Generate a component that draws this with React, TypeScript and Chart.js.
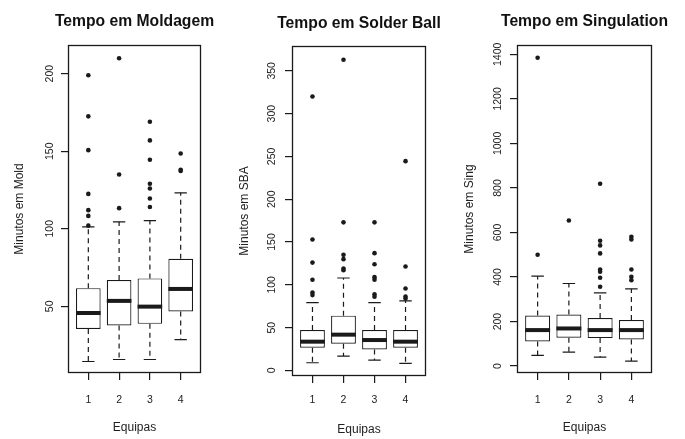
import React, { useEffect, useRef } from 'react';
import { Chart, registerables } from 'chart.js';

Chart.register(...registerables);

// ---------- data ----------
const categories = ['1', '2', '3', '4'];
const positions = [1, 2, 3, 4];

// Tempo em Moldagem
const moldLower = [14.4, 15.7, 15.7, 28.5];
const moldQ1 = [35.4, 37.7, 38.7, 46.7];
const moldMedian = [45.7, 53.5, 49.8, 61.2];
const moldQ3 = [61.7, 67.0, 68.0, 80.7];
const moldUpper = [101.2, 104.5, 105.3, 123.2];
const moldOutliers = [
  [199, 172.5, 150.7, 122.5, 112, 108.3, 102],
  [210, 135, 113.3],
  [169, 157, 144.5, 129, 126, 119.5, 114],
  [148.5, 138, 137.3],
];
const moldTicks = [50, 100, 150, 200];

// Tempo em Solder Ball
const sbaLower = [9, 16.8, 12.1, 8.2];
const sbaQ1 = [26.6, 31.3, 24.6, 26.6];
const sbaMedian = [33.6, 41.8, 35.5, 33.6];
const sbaQ3 = [47.3, 64, 47.3, 47.3];
const sbaUpper = [79.3, 108, 79.3, 81.3];
const sbaOutliers = [
  [320, 153, 126, 106, 91, 88],
  [363, 173, 135, 130, 119, 117],
  [173, 137, 124, 109, 106, 89, 86],
  [244.5, 121.5, 95.7, 86.3, 84],
];
const sbaTicks = [0, 50, 100, 150, 200, 250, 300, 350];

// Tempo em Singulation
const singLower = [47.9, 62.9, 40.4, 22.5];
const singQ1 = [110.8, 127, 125.7, 119.8];
const singMedian = [161.7, 169, 161.7, 161.7];
const singQ3 = [227.5, 232, 215.6, 206.6];
const singUpper = [404, 371, 329, 347];
const singOutliers = [
  [1385, 500],
  [654],
  [819, 563, 542, 506, 434, 424, 397, 356],
  [581, 569, 434, 401, 386],
];
const singTicks = [0, 200, 400, 600, 800, 1000, 1200, 1400];

const FAMILY = 'Arial, "Liberation Sans", Helvetica, sans-serif';
const INK = '#1a1a1a';

type PanelProps = {
  title: string;
  yTitle: string;
  lower: number[];
  q1: number[];
  median: number[];
  q3: number[];
  upper: number[];
  outliers: number[][];
  yTicks: number[];
  yMin: number;
  yMax: number;
  left: number;
  areaLeft: number;
  areaRight: number;
  areaTop: number;
  areaBottom: number;
  titleCenterY: number;
  yTitleX: number;
  yLabelGap: number;
  xLabelY: number;
  xTitleY: number;
};

const HEIGHT = 439;

function Panel(p: PanelProps) {
  const ref = useRef<HTMLCanvasElement | null>(null);
  // canvas symmetric around the plot area so that the chart title is centred over it
  const width = p.areaLeft + p.areaRight;

  useEffect(() => {
    const canvas = ref.current;
    if (!canvas) return;

    const boxPlugin = {
      id: 'rBoxExtras',
      afterDatasetsDraw(chart: any) {
        const ctx = chart.ctx;
        const xs = chart.scales.x;
        const ys = chart.scales.y;
        const meta = chart.getDatasetMeta(0);
        ctx.save();
        ctx.strokeStyle = INK;
        positions.forEach((pos, i) => {
          const x = xs.getPixelForValue(pos);
          const bar = meta.data[i];
          const w = bar ? bar.width : 24;
          const yQ1 = ys.getPixelForValue(p.q1[i]);
          const yQ3 = ys.getPixelForValue(p.q3[i]);
          const yLo = ys.getPixelForValue(p.lower[i]);
          const yHi = ys.getPixelForValue(p.upper[i]);
          const yMed = ys.getPixelForValue(p.median[i]);
          ctx.lineWidth = 1.2;
          ctx.setLineDash([5, 4]);
          ctx.beginPath();
          ctx.moveTo(x, yQ3);
          ctx.lineTo(x, yHi);
          ctx.moveTo(x, yQ1);
          ctx.lineTo(x, yLo);
          ctx.stroke();
          ctx.setLineDash([]);
          ctx.beginPath();
          ctx.moveTo(x - w / 4, yHi);
          ctx.lineTo(x + w / 4, yHi);
          ctx.moveTo(x - w / 4, yLo);
          ctx.lineTo(x + w / 4, yLo);
          ctx.stroke();
          ctx.lineWidth = 4;
          ctx.lineCap = 'butt';
          ctx.beginPath();
          ctx.moveTo(x - w / 2, yMed);
          ctx.lineTo(x + w / 2, yMed);
          ctx.stroke();
        });
        const a = chart.chartArea;
        ctx.lineWidth = 1.3;
        ctx.strokeRect(a.left + 0.5, a.top + 0.5, a.right - a.left - 1, a.bottom - a.top - 1);
        ctx.restore();
      },
    };

    const boxData = positions.map((pos, i) => ({ x: pos, y: [p.q1[i], p.q3[i]] }));
    const outlierData: { x: number; y: number }[] = [];
    positions.forEach((pos, i) => {
      p.outliers[i].forEach((v) => outlierData.push({ x: pos, y: v }));
    });

    const titleSize = 15.7;
    const titleLH = titleSize * 1.2;
    const titleTop = p.titleCenterY - titleLH / 2;
    const titleBottom = p.areaTop - titleTop - titleLH;

    const tickSize = 10.5;
    const tickLen = 7;
    const axisTitleSize = 12;
    const axisTitleLH = axisTitleSize * 1.2;

    const xAxisHeight = HEIGHT - p.areaBottom;
    const xTickPad = p.xLabelY - p.areaBottom - tickLen - (tickSize * 1.2) / 2;
    const xTitlePad = HEIGHT - p.xTitleY - axisTitleLH / 2;

    const yAxisWidth = p.areaLeft;
    const rightSpace = width - p.areaRight;
    const widestDigits = Math.max(...p.yTicks.map((v) => String(v).length));
    const widest = widestDigits * 0.556 * tickSize;
    const yTickPad = p.yLabelGap - tickLen - widest / 2;
    const yTitlePad = p.yTitleX - axisTitleLH / 2;

    const chart = new Chart(canvas, {
      type: 'bar',
      data: {
        datasets: [
          {
            type: 'bar',
            data: boxData as any,
            backgroundColor: '#ffffff',
            borderColor: INK,
            borderWidth: 1.2,
            borderSkipped: false,
            categoryPercentage: 1,
            barPercentage: 0.8,
            order: 2,
            yAxisID: 'y',
          } as any,
          {
            type: 'scatter',
            data: outlierData,
            backgroundColor: INK,
            borderColor: INK,
            borderWidth: 0,
            pointRadius: 2.3,
            pointStyle: 'circle',
            order: 1,
            yAxisID: 'y',
          } as any,
        ],
      },
      options: {
        responsive: false,
        animation: false,
        events: [],
        layout: {
          padding: 0,
        },
        plugins: {
          legend: { display: false },
          tooltip: { enabled: false },
          title: {
            display: true,
            text: p.title,
            fullSize: true,
            color: '#111',
            font: { family: FAMILY, size: titleSize, weight: 'bold', lineHeight: 1.2 },
            padding: { top: titleTop, bottom: titleBottom },
          },
        },
        scales: {
          x: {
            type: 'linear',
            min: 0.34,
            max: 4.66,
            offset: false,
            afterBuildTicks: (s: any) => {
              s.ticks = positions.map((v) => ({ value: v }));
            },
            afterFit: (s: any) => {
              s.height = xAxisHeight;
            },
            ticks: {
              autoSkip: false,
              minRotation: 0,
              maxRotation: 0,
              padding: xTickPad,
              color: '#222',
              font: { family: FAMILY, size: tickSize },
              callback: (v: any) => {
                const k = positions.indexOf(Number(v));
                return k >= 0 ? categories[k] : '';
              },
            },
            grid: {
              display: true,
              offset: false,
              drawOnChartArea: false,
              drawTicks: true,
              tickLength: tickLen,
              color: INK,
              lineWidth: 1.2,
            },
            border: { display: false },
            title: {
              display: true,
              text: 'Equipas',
              color: '#222',
              font: { family: FAMILY, size: axisTitleSize },
              padding: { top: 0, bottom: xTitlePad },
            },
          },
          y: {
            type: 'linear',
            position: 'left',
            min: p.yMin,
            max: p.yMax,
            afterBuildTicks: (s: any) => {
              s.ticks = p.yTicks.map((v) => ({ value: v }));
            },
            afterFit: (s: any) => {
              s.width = yAxisWidth;
            },
            ticks: {
              autoSkip: false,
              minRotation: 90,
              maxRotation: 90,
              crossAlign: 'center',
              padding: yTickPad,
              color: '#222',
              font: { family: FAMILY, size: tickSize },
              callback: (v: any) => String(v),
            },
            grid: {
              display: true,
              drawOnChartArea: false,
              drawTicks: true,
              tickLength: tickLen,
              color: INK,
              lineWidth: 1.2,
            },
            border: { display: false },
            title: {
              display: true,
              text: p.yTitle,
              color: '#222',
              font: { family: FAMILY, size: axisTitleSize },
              padding: { top: yTitlePad, bottom: 0 },
            },
          },
          // empty spacer on the right keeps the plot area in place
          spacer: {
            type: 'linear',
            position: 'right',
            display: true,
            min: 0,
            max: 1,
            afterFit: (s: any) => {
              s.width = rightSpace;
            },
            ticks: { display: false },
            grid: { display: false, drawTicks: false },
            border: { display: false },
            title: { display: false },
          },
        },
      } as any,
      plugins: [boxPlugin as any],
    });

    return () => {
      chart.destroy();
    };
  }, []);

  return (
    <canvas
      ref={ref}
      width={width}
      height={HEIGHT}
      style={{ position: 'absolute', left: p.left, top: 0, width: width, height: HEIGHT }}
    />
  );
}

export default function App() {
  return (
    <div
      style={{
        position: 'absolute',
        left: 0,
        top: 0,
        width: 685,
        height: HEIGHT,
        background: '#ffffff',
        overflow: 'hidden',
      }}
    >
      <Panel
        title="Tempo em Moldagem"
        yTitle="Minutos em Mold"
        lower={moldLower}
        q1={moldQ1}
        median={moldMedian}
        q3={moldQ3}
        upper={moldUpper}
        outliers={moldOutliers}
        yTicks={moldTicks}
        yMin={7}
        yMax={218.5}
        left={0}
        areaLeft={68}
        areaRight={201}
        areaTop={45}
        areaBottom={373}
        titleCenterY={21.5}
        yTitleX={20}
        yLabelGap={18}
        xLabelY={400}
        xTitleY={428}
      />
      <Panel
        title="Tempo em Solder Ball"
        yTitle="Minutos em SBA"
        lower={sbaLower}
        q1={sbaQ1}
        median={sbaMedian}
        q3={sbaQ3}
        upper={sbaUpper}
        outliers={sbaOutliers}
        yTicks={sbaTicks}
        yMin={-6.5}
        yMax={379}
        left={228}
        areaLeft={64}
        areaRight={198}
        areaTop={46}
        areaBottom={376}
        titleCenterY={23.5}
        yTitleX={16.3}
        yLabelGap={20}
        xLabelY={400}
        xTitleY={430}
      />
      <Panel
        title="Tempo em Singulation"
        yTitle="Minutos em Sing"
        lower={singLower}
        q1={singQ1}
        median={singMedian}
        q3={singQ3}
        upper={singUpper}
        outliers={singOutliers}
        yTicks={singTicks}
        yMin={-31}
        yMax={1442}
        left={456}
        areaLeft={61}
        areaRight={196}
        areaTop={45}
        areaBottom={373}
        titleCenterY={21.5}
        yTitleX={14}
        yLabelGap={19.3}
        xLabelY={400}
        xTitleY={428}
      />
    </div>
  );
}
